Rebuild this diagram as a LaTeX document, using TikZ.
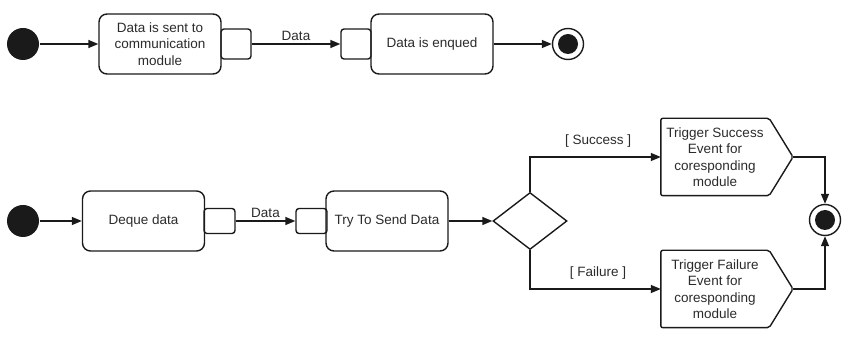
\documentclass[tikz,border=0pt]{standalone}
\usepackage{fontspec}
\setmainfont{Liberation Sans}
\usetikzlibrary{arrows.meta,shapes.geometric}

\definecolor{ink}{HTML}{1A1A1A}
\definecolor{txt}{HTML}{2B2B2B}

\tikzset{
  action/.style={draw=ink, rounded corners=8pt, minimum width=122pt,
    minimum height=60pt, align=center, inner sep=2pt, text=txt},
  pinbox/.style={draw=ink, rounded corners=3pt, minimum width=30pt,
    minimum height=30pt, inner sep=0pt},
  flatpin/.style={pinbox, minimum width=31pt, minimum height=25pt},
  initial/.style={circle, fill=ink, minimum size=32pt, inner sep=0pt},
  final/.style={circle, draw=ink, minimum size=31pt, inner sep=0pt},
  decision/.style={diamond, draw=ink, minimum width=74pt, minimum height=57pt,
    inner sep=0pt, aspect=1.3},
  evtext/.style={minimum width=107pt, minimum height=76pt, align=center,
    inner sep=0pt, text=txt},
  outline/.style={draw=ink, rounded corners=2pt},
  flow/.style={draw=ink, -{Triangle[length=10pt,width=8pt]}},
  guard/.style={text=txt, inner sep=3pt}
}

\begin{document}
\begin{tikzpicture}[x=1pt, y=-1pt, line width=1.4pt,
  font=\fontsize{13.5}{16.5}\selectfont]
  \useasboundingbox (0,0) rectangle (852,347);

  % sending side
  \node[initial] (s1) at (23,44) {};
  \node[action] (send) at (160,44) {Data is sent to\\communication\\module};
  \node[pinbox] (out1) at (236,44) {};
  \node[pinbox] (in1) at (356,44) {};
  \node[action] (enq) at (432,44) {Data is enqued};
  \node[final] (f1) at (568,44) {};
  \fill[ink] (f1.center) circle (10pt);

  \draw[flow] (s1) -- (send);
  \draw[flow] (out1) -- node[guard, above] {Data} (in1);
  \draw[flow] (enq) -- (f1);

  % dispatching side
  \node[initial] (s2) at (23,221) {};
  \node[action] (deq) at (143.5,221) {Deque data};
  \node[flatpin] (out2) at (219.5,221) {};
  \node[flatpin] (in2) at (311.5,221) {};
  \node[action] (try) at (387,221) {Try To Send Data};
  \node[decision] (dec) at (530,221) {};

  % send-signal events: text area plus pointed outline
  \node[evtext] (ok) at (715,157)
    {Trigger Success\\Event for\\coresponding\\module};
  \coordinate (okTip) at (793,157);
  \draw[outline] (ok.north west) -- (ok.north east) -- (okTip)
    -- (ok.south east) -- (ok.south west) -- cycle;

  \node[evtext] (bad) at (715,289)
    {Trigger Failure\\Event for\\coresponding\\module};
  \coordinate (badTip) at (793,289);
  \draw[outline] (bad.north west) -- (bad.north east) -- (badTip)
    -- (bad.south east) -- (bad.south west) -- cycle;

  \node[final] (f2) at (825,220) {};
  \fill[ink] (f2.center) circle (10pt);

  \draw[flow] (s2) -- (deq);
  \draw[flow] (out2) -- node[guard, above] {Data} (in2);
  \draw[flow] (try) -- (dec);
  \draw[flow] (dec.north) |- node[guard, above=6pt, pos=0.76] {[ Success ]} (ok.west);
  \draw[flow] (dec.south) |- node[guard, above=6pt, pos=0.76] {[ Failure ]} (bad.west);
  \draw[flow] (okTip) -| (f2.north);
  \draw[flow] (badTip) -| (f2.south);
\end{tikzpicture}
\end{document}
